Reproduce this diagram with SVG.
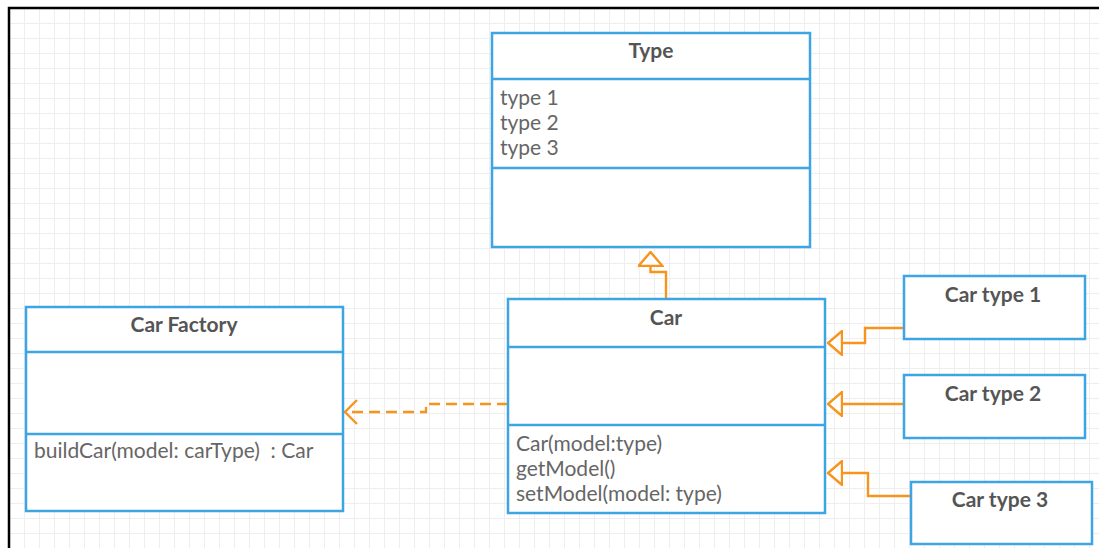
<svg xmlns="http://www.w3.org/2000/svg" width="1099" height="548" viewBox="0 0 1099 548">
<defs>
<pattern id="grid" x="9" y="8" width="15" height="15" patternUnits="userSpaceOnUse">
<path d="M0 0.5H15M0.5 0V15" fill="none" stroke="#eeeeee" stroke-width="1"/>
</pattern>
<marker id="tri" viewBox="0 0 16 26" refX="1" refY="13" markerWidth="16" markerHeight="26" markerUnits="userSpaceOnUse" orient="auto">
<path d="M15 13L1 1V25Z" fill="#fff" stroke="#F7941D" stroke-width="2.4" stroke-linejoin="miter"/>
</marker>
<marker id="open" viewBox="0 0 16 26" refX="14" refY="13" markerWidth="16" markerHeight="26" markerUnits="userSpaceOnUse" orient="auto">
<path d="M2 1L14 13L2 25" fill="none" stroke="#F7941D" stroke-width="2.4"/>
</marker>
</defs>
<style>
.box{fill:#fff;stroke:#3DA5E3;stroke-width:2.5}
.div{stroke:#3DA5E3;stroke-width:2.5}
.title{font-family:Lato,"Liberation Sans",sans-serif;font-weight:bold;font-size:21px;fill:#555;text-anchor:middle}
.txt{font-family:Lato,"Liberation Sans",sans-serif;font-size:21px;fill:#666;white-space:pre}
.con{fill:none;stroke:#F7941D;stroke-width:2.4}
</style>
<rect width="1099" height="548" fill="#fff"/>
<rect x="9" y="8" width="1090" height="540" fill="url(#grid)"/>
<path d="M9 548V8H1099" fill="none" stroke="#000" stroke-width="2.5"/>

<g id="connectors">
<path class="con" d="M666 299V272H650.5V266" marker-end="url(#tri)"/>
<path class="con" d="M904 328H865V343H842" marker-end="url(#tri)"/>
<path class="con" d="M904 404H842" marker-end="url(#tri)"/>
<path class="con" d="M911 496H868V473H842" marker-end="url(#tri)"/>
<path class="con" d="M508 404H426V412H345" stroke-dasharray="11 6" marker-end="url(#open)"/>
</g>

<g id="type">
<rect class="box" x="492" y="33" width="318" height="214"/>
<line class="div" x1="492" y1="79" x2="810" y2="79"/>
<line class="div" x1="492" y1="168" x2="810" y2="168"/>
<text class="title" x="651" y="58">Type</text>
<text class="txt" x="500" y="105">type 1</text>
<text class="txt" x="500" y="130">type 2</text>
<text class="txt" x="500" y="155">type 3</text>
</g>

<g id="car">
<rect class="box" x="508" y="299" width="317" height="214"/>
<line class="div" x1="508" y1="347" x2="825" y2="347"/>
<line class="div" x1="508" y1="425" x2="825" y2="425"/>
<text class="title" x="666" y="325">Car</text>
<text class="txt" x="516" y="451">Car(model:type)</text>
<text class="txt" x="516" y="476">getModel()</text>
<text class="txt" x="516" y="501">setModel(model: type)</text>
</g>

<g id="carFactory">
<rect class="box" x="26" y="307" width="317" height="204"/>
<line class="div" x1="26" y1="352" x2="343" y2="352"/>
<line class="div" x1="26" y1="434" x2="343" y2="434"/>
<text class="title" x="184" y="332">Car Factory</text>
<text class="txt" x="34" y="458">buildCar(model: carType)  : Car</text>
</g>

<g id="carType1">
<rect class="box" x="904" y="276" width="181" height="63"/>
<text class="title" x="993" y="302">Car type 1</text>
</g>

<g id="carType2">
<rect class="box" x="904" y="375" width="181" height="63"/>
<text class="title" x="993" y="401">Car type 2</text>
</g>

<g id="carType3">
<rect class="box" x="911" y="482" width="181" height="62"/>
<text class="title" x="1000" y="507">Car type 3</text>
</g>
</svg>
